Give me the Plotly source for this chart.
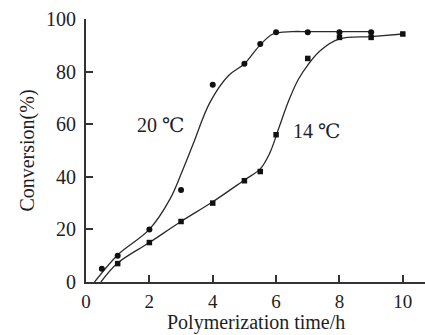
import plotly.graph_objects as go

# measured points
time_20 = [0.5, 1, 2, 3, 4, 5, 5.5, 6, 7, 8, 9]
conv_20 = [5, 10, 20, 35, 75, 83, 90.5, 95, 95, 95, 95]
time_14 = [1, 2, 3, 4, 5, 5.5, 6, 7, 8, 9, 10]
conv_14 = [7, 15, 23, 30, 38.5, 42, 56, 85, 93, 93, 94.3]

# hand-drawn trend curves
curve20_t = [0.27, 1, 2, 2.65, 3.05, 3.4, 3.9, 4.5, 5, 5.45, 5.9, 6.5, 7, 8, 9]
curve20_c = [0, 10.3, 20, 31.5, 42.5, 53, 68, 78.5, 83, 89.5, 94.3, 95.2, 95.2, 95.2, 95.2]
curve14_t = [0.47, 1, 2, 3, 4, 5, 5.5, 5.8, 6.1, 6.4, 6.7, 7, 7.4, 8, 9, 10]
curve14_c = [0, 7.2, 15, 23, 30.5, 38.8, 43, 49, 59, 69, 77, 82.5, 88, 92.4, 93.3, 94.3]

x_ticks = [0, 2, 4, 6, 8, 10]
y_ticks = [0, 20, 40, 60, 80, 100]
x_title = "Polymerization time/h"
y_title = "Conversion(%)"

FONT = "Liberation Serif, DejaVu Serif, serif"
INK = "#1e1e1e"

fig = go.Figure()
for ct, cc in ((curve20_t, curve20_c), (curve14_t, curve14_c)):
    fig.add_trace(go.Scatter(x=ct, y=cc, mode="lines",
                             line=dict(color="#2a2a2a", width=1.3, shape="spline", smoothing=1.0),
                             showlegend=False, hoverinfo="skip"))
fig.add_trace(go.Scatter(x=time_20, y=conv_20, mode="markers",
                         marker=dict(symbol="circle", size=6, color="#111111"),
                         name="20 ℃", showlegend=False))
fig.add_trace(go.Scatter(x=time_14, y=conv_14, mode="markers",
                         marker=dict(symbol="square", size=5.5, color="#111111"),
                         name="14 ℃", showlegend=False))

fig.add_annotation(x=2.35, y=59.7, text="20 ℃", showarrow=False,
                   font=dict(family=FONT, size=20, color=INK))
fig.add_annotation(x=7.28, y=57.4, text="14 ℃", showarrow=False,
                   font=dict(family=FONT, size=20, color=INK))
# x-axis title, placed just under the tick labels
fig.add_annotation(xref="paper", yref="paper", x=0.5, y=-0.104, xanchor="center",
                   yanchor="top", text=x_title, showarrow=False,
                   font=dict(family=FONT, size=20, color=INK))

fig.update_layout(
    width=425, height=335,
    margin=dict(l=86, r=0, t=19, b=53),
    paper_bgcolor="white", plot_bgcolor="white",
    font=dict(family=FONT, size=20, color=INK),
    showlegend=False,
)
fig.update_xaxes(range=[0, 10.7], tickvals=x_ticks, ticks="inside", ticklen=7,
                 tickwidth=1.5, tickcolor="#333333", showline=True, linecolor="#333333",
                 linewidth=2, showgrid=False, zeroline=False,
                 tickfont=dict(family=FONT, size=19, color=INK), ticklabelstandoff=1)
fig.update_yaxes(range=[0, 100], tickvals=y_ticks, ticks="inside", ticklen=7,
                 tickwidth=1.5, tickcolor="#333333", showline=True, linecolor="#333333",
                 linewidth=2, showgrid=False, zeroline=False,
                 title=dict(text=y_title, standoff=6,
                            font=dict(family=FONT, size=20, color=INK)),
                 tickfont=dict(family=FONT, size=20, color=INK), ticklabelstandoff=4)

fig.write_html("out.html")
